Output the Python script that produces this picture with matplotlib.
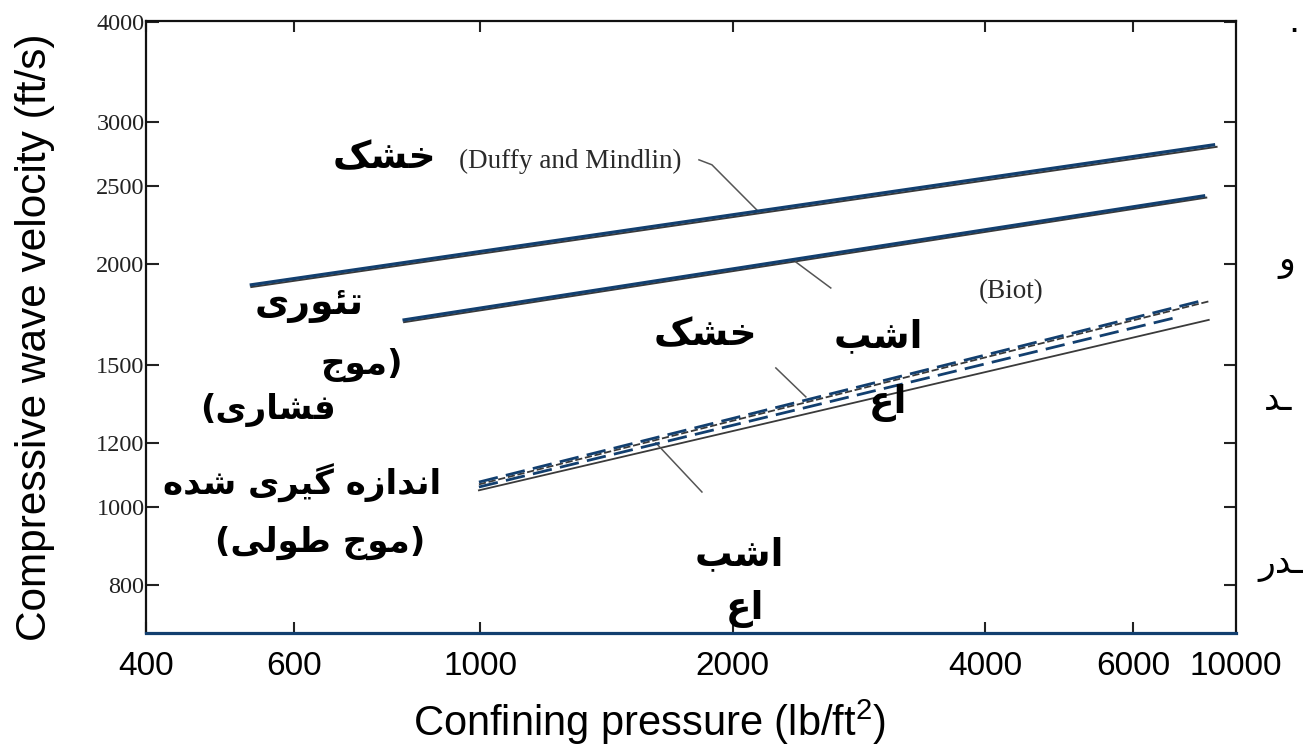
import matplotlib
matplotlib.use('Agg')
import matplotlib.pyplot as plt
from matplotlib.ticker import FixedLocator, FixedFormatter, NullLocator

plt.rcParams['font.family'] = ['Liberation Sans', 'DejaVu Sans']
plt.rcParams['mathtext.fontset'] = 'custom'
plt.rcParams['mathtext.rm'] = 'Liberation Sans'
plt.rcParams['mathtext.default'] = 'regular'

# Data (confining pressure lb/ft2, velocity ft/s)
pressure_duffy = [534, 7478]
velocity_duffy = [1886, 2814]
pressure_biot = [812, 7277]
velocity_biot = [1706, 2432]
pressure_dry = [997, 7316]
velocity_dry = [1073, 1807]
pressure_sat = [997, 6702]
velocity_sat = [1058, 1715]

# black lines of the scan that show under the blue ones
scan_duffy_p = [534, 7540]
scan_duffy_v = [1874, 2798]
scan_biot_p = [812, 7330]
scan_biot_v = [1695, 2420]
scan_dry_p = [997, 7400]
scan_dry_v = [1066, 1800]
scan_sat_p = [997, 7380]
scan_sat_v = [1048, 1706]

# leader lines of the original figure
lead_duffy_p = [1823, 1889, 2148]
lead_duffy_v = [2696, 2658, 2323]
lead_biot_p = [2378, 2617]
lead_biot_v = [2013, 1869]
lead_dry_p = [2251, 2444]
lead_dry_v = [1487, 1369]
lead_sat_p = [1620, 1838]
lead_sat_v = [1200, 1043]

x_ticks = [400, 600, 1000, 2000, 4000, 6000]
x_labels = ['400', '600', '1000', '2000', '4000', '6000']
y_ticks = [800, 1000, 1200, 1500, 2000, 2500, 3000, 4000]
y_labels = ['800', '1000', '1200', '1500', '2000', '2500', '3000', '4000']

# Persian labels (logical order)
label_dry_top = 'خشک'
label_theory = ['تئوری', '(موج', 'فشاری)']
label_measured = ['اندازه گیری شده', '(موج طولی)']
label_dry_mid = 'خشک'
label_sat = ['اشب', 'اع']
right_bits = ['و', 'ـد', 'ـدر', '.']

# Arabic presentation forms: isolated, final, initial, medial
FORMS = {
    'ا': (0xFE8D, 0xFE8E, None, None),
    'د': (0xFEA9, 0xFEAA, None, None),
    'ر': (0xFEAD, 0xFEAE, None, None),
    'ز': (0xFEAF, 0xFEB0, None, None),
    'و': (0xFEED, 0xFEEE, None, None),
    'ب': (0xFE8F, 0xFE90, 0xFE91, 0xFE92),
    'ت': (0xFE95, 0xFE96, 0xFE97, 0xFE98),
    'ج': (0xFE9D, 0xFE9E, 0xFE9F, 0xFEA0),
    'خ': (0xFEA5, 0xFEA6, 0xFEA7, 0xFEA8),
    'ش': (0xFEB5, 0xFEB6, 0xFEB7, 0xFEB8),
    'ط': (0xFEC1, 0xFEC2, 0xFEC3, 0xFEC4),
    'ع': (0xFEC9, 0xFECA, 0xFECB, 0xFECC),
    'ف': (0xFED1, 0xFED2, 0xFED3, 0xFED4),
    'ل': (0xFEDD, 0xFEDE, 0xFEDF, 0xFEE0),
    'م': (0xFEE1, 0xFEE2, 0xFEE3, 0xFEE4),
    'ن': (0xFEE5, 0xFEE6, 0xFEE7, 0xFEE8),
    'ه': (0xFEE9, 0xFEEA, 0xFEEB, 0xFEEC),
    'ئ': (0xFE89, 0xFE8A, 0xFE8B, 0xFE8C),
    'ک': (0xFB8E, 0xFB8F, 0xFB90, 0xFB91),
    'گ': (0xFB92, 0xFB93, 0xFB94, 0xFB95),
    'ی': (0xFBFC, 0xFBFD, 0xFBFE, 0xFBFF),
    'ـ': (0x640, 0x640, 0x640, 0x640),
}


def fa(text):
    # matplotlib has no Arabic shaping, so pick the joined forms and reverse
    out = []
    for i, ch in enumerate(text):
        if ch not in FORMS:
            out.append(ch)
            continue
        prev = text[i - 1] if i > 0 else ''
        nxt = text[i + 1] if i < len(text) - 1 else ''
        join_prev = prev in FORMS and FORMS[prev][2] is not None
        join_next = FORMS[ch][2] is not None and nxt in FORMS
        iso, fin, ini, med = FORMS[ch]
        if join_prev and join_next:
            code = med
        elif join_prev:
            code = fin
        elif join_next:
            code = ini
        else:
            code = iso
        out.append(chr(code))
    mirror = {'(': ')', ')': '('}
    return ''.join(mirror.get(c, c) for c in reversed(out))


fig = plt.figure(figsize=(13.03, 7.54), dpi=100)
ax = fig.add_axes([0.1120, 0.1605, 0.8365, 0.8117])
ax.set_xscale('log')
ax.set_yscale('log')
ax.set_xlim(400, 7950)
ax.set_ylim(697, 4010)

blue = '#123f6f'
scan = '#3a3a3a'

# scanned black lines underneath
ax.plot(scan_duffy_p, scan_duffy_v, color=scan, lw=1.4)
ax.plot(scan_biot_p, scan_biot_v, color=scan, lw=1.4)
ax.plot(scan_dry_p, scan_dry_v, color=scan, lw=1.3, ls=(0, (4, 1.5)))
ax.plot(scan_sat_p, scan_sat_v, color=scan, lw=1.3)
for p, v in [(lead_duffy_p, lead_duffy_v), (lead_biot_p, lead_biot_v),
             (lead_dry_p, lead_dry_v), (lead_sat_p, lead_sat_v)]:
    ax.plot(p, v, color='#555555', lw=1.1)

# blue lines on top
ax.plot(pressure_duffy, velocity_duffy, color=blue, lw=2.3)
ax.plot(pressure_biot, velocity_biot, color=blue, lw=2.3)
ax.plot(pressure_dry, velocity_dry, color=blue, lw=2.0, ls=(0, (7, 3)))
ax.plot(pressure_sat, velocity_sat, color=blue, lw=2.0, ls=(0, (7, 3)))

# axes frame: scanned black frame, blue bottom line
for side in ['left', 'top', 'right']:
    ax.spines[side].set_color('#111111')
    ax.spines[side].set_linewidth(1.6)
ax.spines['bottom'].set_color(blue)
ax.spines['bottom'].set_linewidth(2.3)

ax.xaxis.set_major_locator(FixedLocator(x_ticks))
ax.xaxis.set_major_formatter(FixedFormatter(x_labels))
ax.xaxis.set_minor_locator(NullLocator())
ax.yaxis.set_major_locator(FixedLocator(y_ticks))
ax.yaxis.set_major_formatter(FixedFormatter(y_labels))
ax.yaxis.set_minor_locator(NullLocator())

ax.tick_params(axis='x', which='major', direction='in', length=8, width=1.5,
               color='#222222', top=True, labelsize=24, pad=13)
ax.tick_params(axis='y', which='major', direction='in', length=9, width=1.5,
               color='#222222', right=True, labelsize=17.5, pad=1,
               labelcolor='#222222')
for t in ax.get_yticklabels():
    t.set_fontfamily('Liberation Serif')

# the "10000" label sits at the right end of the axis
ax.text(1.0, -0.0295, '10000', transform=ax.transAxes, ha='center', va='top',
        fontsize=24)

ax.set_xlabel('Confining pressure (lb/ft$^{2}$)', fontsize=30)
ax.xaxis.set_label_coords(0.462, -0.106)
ax.set_ylabel('Compressive wave velocity (ft/s)', fontsize=30.5)
ax.yaxis.set_label_coords(-0.083, 0.484)

# labels from the original figure
ax.text(0.389, 0.771, '(Duffy and Mindlin)', transform=ax.transAxes,
        ha='center', va='center', fontsize=19.5, family='Liberation Serif',
        color='#2a2a2a')
ax.text(0.794, 0.557, '(Biot)', transform=ax.transAxes, ha='center',
        va='center', fontsize=19.5, family='Liberation Serif', color='#2a2a2a')

# Persian labels
big = dict(transform=ax.transAxes, ha='center', va='center', fontsize=27,
           fontweight='bold', family=['DejaVu Sans'])
mid = dict(big, fontsize=24.5)
ax.text(0.219, 0.775, fa(label_dry_top), **big)
ax.text(0.150, 0.536, fa(label_theory[0]), **big)
ax.text(0.198, 0.438, fa(label_theory[1]), **mid)
ax.text(0.112, 0.364, fa(label_theory[2]), **mid)
ax.text(0.143, 0.245, fa(label_measured[0]), **mid)
ax.text(0.160, 0.147, fa(label_measured[1]), **mid)
ax.text(0.513, 0.487, fa(label_dry_mid), **big)
ax.text(0.672, 0.484, fa(label_sat[0]), **big)
ax.text(0.681, 0.376, fa(label_sat[1]), **big)
ax.text(0.544, 0.127, fa(label_sat[0]), **big)
ax.text(0.550, 0.040, fa(label_sat[1]), **big)

# slide text cut off at the right edge
fr_kw = dict(ha='left', va='center', fontsize=25, family=['DejaVu Sans'])
fig.text(1278 / 1303, 1 - 262 / 754, fa(right_bits[0]), **fr_kw)
fig.text(1264 / 1303, 1 - 400 / 754, fa(right_bits[1]), **fr_kw)
fig.text(1258 / 1303, 1 - 565 / 754, fa(right_bits[2]), **fr_kw)
fig.text(1288 / 1303, 1 - 22 / 754, right_bits[3], **fr_kw)

plt.savefig('out.png', dpi=100)
